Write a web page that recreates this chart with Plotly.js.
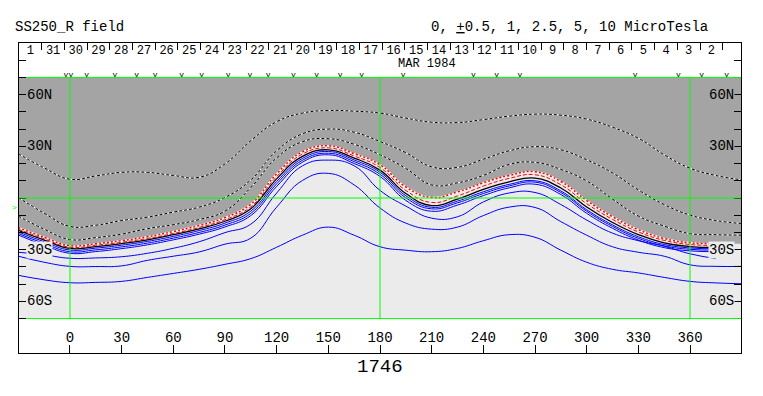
<!DOCTYPE html>
<html><head><meta charset="utf-8">
<script src="https://cdn.plot.ly/plotly-3.0.1.min.js"></script>
<style>html,body{margin:0;padding:0;background:#fff}#chart{width:763px;height:396px}</style>
</head><body><div id="chart"></div>
<script>
// Carrington longitude grid (degrees)
const lon = [-30,-15,0,15,30,45,60,75,90,105,120,135,150,165,180,195,210,225,240,255,270,285,300,315,330,345,360,375,390];

// positive-polarity contours (dotted, dark region), latitude in degrees
const posOuter = [25.7,17.5,10.9,12.8,14.9,14.9,13.1,12.0,19.8,33.3,44.3,49.3,50.8,50.4,49.3,46.4,44.0,43.8,45.5,47.5,48.7,48.1,45.8,41.1,34.7,25.1,17.3,13.1,10.5];
const posMid   = [0.3,-8.8,-16.5,-15.8,-13.1,-11.1,-8.2,-5.3,0.3,10.5,27.4,37.3,40.0,38.2,32.8,26.3,18.1,17.8,22.5,27.4,29.8,28.0,22.2,14.6,4.7,-3.8,-9.9,-13.1,-14.8];
const posInner = [-10.5,-18.1,-24.1,-23.0,-21.0,-17.8,-15.5,-12.5,-7.6,6.1,23.3,32.7,34.4,31.2,25.1,17.2,7.6,8.8,13.1,19.5,20.7,16.6,9.9,-0.6,-10.5,-16.3,-20.7,-21.3,-21.6];
// neutral-line band
const edgeDots  = [-17.2,-22.8,-27.7,-26.5,-24.8,-22.5,-19.5,-16.0,-11.4,-3.6,14.0,26.8,30.3,25.7,19.3,6.4,0.3,3.5,8.8,13.1,15.2,9.6,-1.5,-10.9,-18.4,-23.5,-26.0,-26.5,-26.5];
const edgeDash  = [-18.1,-23.7,-28.6,-27.4,-25.7,-23.5,-20.6,-17.1,-12.6,-5.1,12.4,25.5,29.1,24.4,17.7,4.4,-2.6,1.2,6.9,11.4,13.5,7.7,-3.3,-12.4,-19.7,-24.6,-27.0,-27.5,null];
const zeroLine  = [-18.8,-24.4,-29.3,-28.2,-26.5,-24.3,-21.3,-17.9,-13.5,-6.2,11.1,24.2,28.0,23.2,16.2,2.6,-4.4,-0.6,5.0,9.4,11.5,5.8,-5.2,-14.2,-21.3,-26.0,-28.2,-28.7,null];
// negative-polarity contours (blue)
const neg1 = [-19.7,-25.4,-30.2,-29.1,-27.4,-25.2,-22.3,-18.9,-14.6,-7.6,9.6,23.0,27.0,22.1,15.0,1.3,-5.4,-1.8,3.6,7.9,10.0,4.1,-6.8,-15.6,-22.5,-27.0,-29.0,-29.5,null];
const neg2 = [-20.6,-26.4,-31.2,-30.1,-28.4,-26.2,-23.3,-20.0,-15.7,-8.9,8.2,21.9,26.0,21.1,13.8,0.1,-6.3,-2.8,2.6,7.0,9.2,3.2,-7.7,-16.5,-23.4,-27.8,-29.8,-30.3,null];
const neg3 = [-21.5,-27.4,-32.1,-31.1,-29.4,-27.2,-24.3,-21.0,-16.8,-10.2,6.7,20.8,25.1,20.0,12.5,-1.4,-7.7,-4.1,1.4,5.9,8.0,2.0,-8.9,-17.6,-24.4,-28.8,-30.7,-31.2,null];
const neg4 = [-31.5,-33.0,-35.0,-34.8,-34.1,-32.1,-29.2,-25.4,-20.1,-15.2,2.9,18.7,22.0,18.7,4.4,-4.7,-11.7,-10.9,-2.3,2.9,3.2,-3.8,-12.8,-20.4,-24.8,-28.0,-32.4,-35.2,null];
const neg5 = [-33.8,-37.3,-39.7,-39.8,-39.4,-36.2,-33.8,-31.3,-26.8,-23.3,-5.3,10.2,14.3,7.6,-5.8,-14.6,-18.1,-16.9,-10.2,-5.3,-5.5,-13.7,-21.6,-28.3,-31.5,-33.8,-38.8,-39.7,-39.7];
const neg6 = [-44.9,-47.5,-49.2,-49.0,-48.4,-46.1,-43.8,-41.4,-38.5,-35.2,-28.6,-21.6,-16.9,-21.6,-28.3,-30.3,-31.2,-29.3,-24.8,-21.3,-22.8,-30.3,-37.3,-41.4,-43.5,-46.1,-48.4,-49.3,-49.8];

// observation marks along the top
const markLon = [-2.3,0.5,9.7,26.1,38.7,49.4,64.9,76.5,91.9,104.5,115.1,129.7,143.2,156.8,169.4,193.5,234.2,247.8,261.3,328.1,353.2,366.8,381.3];

// axis ticks
const lonTicks = [0,30,60,90,120,150,180,210,240,270,300,330,360];
const latTicks = [-80,-70,-60,-50,-40,-30,-20,-10,0,10,20,30,40,50,60,70,80];
const latLabels = [{v:60,t:'60N',bg:'#a4a4a4'},{v:30,t:'30N',bg:'#a4a4a4'},{v:-30,t:'30S',bg:'#ebebeb'},{v:-60,t:'60S',bg:'#ebebeb'}];
const days = ['1','31','30','29','28','27','26','25','24','23','22','21','20','19','18','17','16','15','14','13','12','11','10','9','8','7','6','5','4','3','2'];
const dayTick0 = -16.4, dayStep = 13.18;
const dayTicks = days.map((d,i)=>dayTick0 + i*dayStep);
const dayCenters = days.map((d,i)=>dayTick0 - dayStep/2 + i*dayStep);

const refLon = [0,180,360];
const refLat = [70,0,-70];

const FONT = 'Liberation Mono, Courier New, monospace';
const XR = [-29.6, 389.6];

function line(y, color, width, dash, extra) {
  return Object.assign({x: lon, y: y, mode:'lines', line:{color:color, width:width, dash:dash||'solid', shape:'spline', smoothing:1.3}, hoverinfo:'skip', showlegend:false, connectgaps:false}, extra||{});
}

const traces = [
  {x:[-30,390], y:[70,70], mode:'lines', line:{width:0}, hoverinfo:'skip', showlegend:false},
  line(edgeDots, 'rgba(0,0,0,0)', 0, 'solid', {fill:'tonexty', fillcolor:'#a4a4a4'}),
];
[posOuter,posMid,posInner].forEach(a=>{
  traces.push(line(a,'#ffffff',1));
  traces.push(line(a,'#000000',1,'3px,2px'));
});
const edgeLine = edgeDots.slice(0,-1);
traces.push(Object.assign(line(edgeLine,'#ffffff',1.5), {x: lon.slice(0,-1)}));
traces.push(Object.assign(line(edgeLine,'#ff0000',1.5,'2px,2px'), {x: lon.slice(0,-1)}));
traces.push(line(edgeDash,'#ff0000',1,'4px,2px'));
traces.push(line(zeroLine,'#000000',1.3));
[neg1,neg2,neg3,neg4,neg5,neg6].forEach(a=>traces.push(line(a,'#0000ff',1)));
traces.push({x:markLon, y:markLon.map(()=>71.3), mode:'text', text:markLon.map(()=>'v'), textfont:{family:FONT,size:8,color:'#000'}, hoverinfo:'skip', showlegend:false, cliponaxis:false});
traces.push({x:[0], y:[-200], xaxis:'x2', mode:'markers', marker:{opacity:0}, hoverinfo:'skip', showlegend:false});
traces.push({x:[0], y:[-200], xaxis:'x3', mode:'markers', marker:{opacity:0}, hoverinfo:'skip', showlegend:false});

const shapes = [
  {type:'rect', xref:'paper', x0:0, x1:1, yref:'y', y0:-70, y1:70, fillcolor:'#ebebeb', line:{width:0}, layer:'below'},
];
refLon.forEach(v=>shapes.push({type:'line', xref:'x', x0:v, x1:v, yref:'y', y0:-70, y1:70, line:{color:'#00ff00', width:1}, layer:'above'}));
refLat.forEach(v=>shapes.push({type:'line', xref:'x', x0:(v===0?XR[0]:-25.5), x1:XR[1], yref:'y', y0:v, y1:v, line:{color:'#00ff00', width:1}, layer:'above'}));

const annotations = [
  {text:'SS250_R field', xref:'paper', yref:'paper', x:-0.008, y:1.0526, xanchor:'left', yanchor:'middle', showarrow:false, font:{family:FONT,size:14,color:'#000'}},
  {text:'0, <u>+</u>0.5, 1, 2.5, 5, 10 MicroTesla', xref:'paper', yref:'paper', x:0.957, y:1.0526, xanchor:'right', yanchor:'middle', showarrow:false, font:{family:FONT,size:14,color:'#000'}},
  {text:'MAR 1984', xref:'x', yref:'y', x:207.3, y:77.6, xanchor:'center', yanchor:'middle', showarrow:false, borderpad:0, font:{family:FONT,size:12,color:'#000'}},
  {text:'1746', xref:'x', yref:'paper', x:180, y:-0.045, xanchor:'center', yanchor:'middle', showarrow:false, font:{family:FONT,size:19,color:'#000'}},
  {text:'>', xref:'paper', yref:'y', x:0, xshift:-5, y:-5.8, xanchor:'center', yanchor:'middle', showarrow:false, font:{family:FONT,size:8,color:'#00ff00'}},
];
latLabels.forEach(l=>{
  annotations.push({text:l.t, xref:'paper', yref:'y', x:0, xshift:7, y:l.v, xanchor:'left', yanchor:'middle', showarrow:false, bgcolor:l.bg, borderpad:0, font:{family:FONT,size:14,color:'#000'}});
  annotations.push({text:l.t, xref:'paper', yref:'y', x:1, xshift:-6, y:l.v, xanchor:'right', yanchor:'middle', showarrow:false, bgcolor:l.bg, borderpad:0, font:{family:FONT,size:14,color:'#000'}});
});

const layout = {
  width:763, height:396,
  margin:{l:19, r:22, t:43, b:43, pad:0},
  paper_bgcolor:'#ffffff', plot_bgcolor:'#ffffff',
  font:{family:FONT, size:14, color:'#000'},
  xaxis:{range:XR, tickvals:lonTicks, ticks:'inside', ticklen:8, tickcolor:'#000', tickwidth:1,
         ticklabelposition:'inside', tickfont:{family:FONT,size:14,color:'#000'},
         showline:true, linecolor:'#000', linewidth:1, mirror:true, showgrid:false, zeroline:false, fixedrange:true},
  xaxis2:{range:XR, overlaying:'x', side:'top', anchor:'y', tickvals:dayTicks, ticks:'inside', ticklen:7, tickcolor:'#000',
          showticklabels:false, showline:false, showgrid:false, zeroline:false, fixedrange:true},
  xaxis3:{range:XR, overlaying:'x', side:'top', anchor:'y', tickvals:dayCenters, ticktext:days, ticks:'',
          ticklabelposition:'inside', tickfont:{family:FONT,size:12,color:'#000'},
          showline:false, showgrid:false, zeroline:false, fixedrange:true},
  yaxis:{range:[-90,90], tickvals:latTicks, ticks:'inside', ticklen:7, tickcolor:'#000', showticklabels:false,
         showline:true, linecolor:'#000', linewidth:1, mirror:'ticks', showgrid:false, zeroline:false, fixedrange:true},
  shapes:shapes, annotations:annotations
};
Plotly.newPlot('chart', traces, layout, {staticPlot:true, displayModeBar:false});
</script></body></html>
